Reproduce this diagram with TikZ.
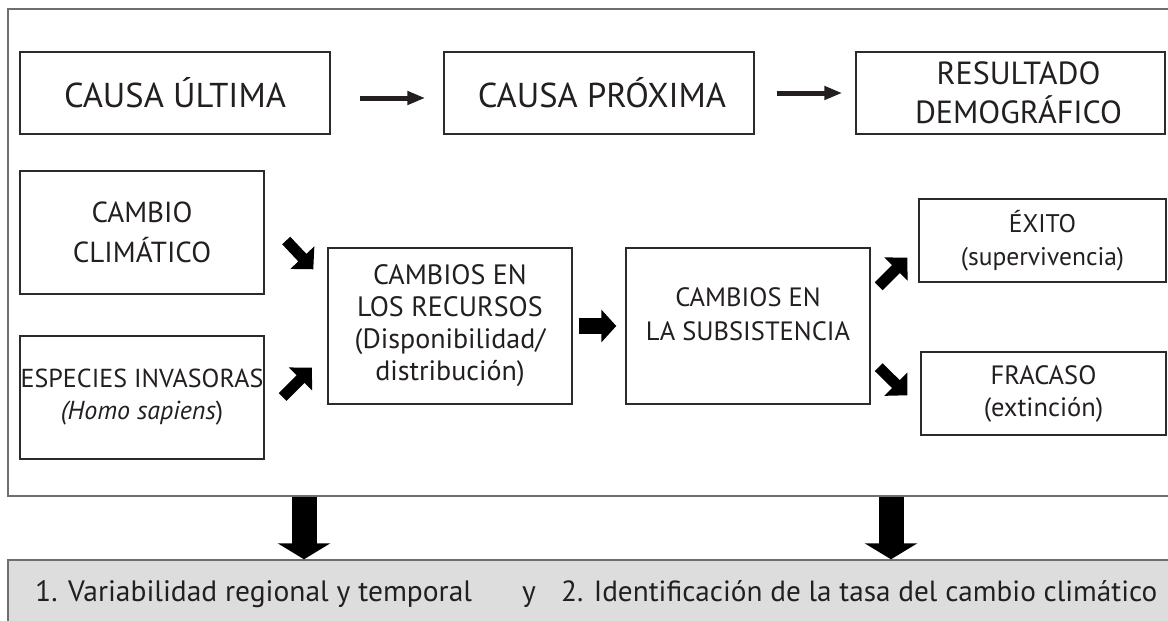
\documentclass[tikz,border=0pt]{standalone}
\usepackage{fontspec}
\setmainfont{PT Sans}
\usetikzlibrary{arrows.meta}
\definecolor{ink}{HTML}{231F20}
\definecolor{boxline}{HTML}{2B2B2B}
\definecolor{outerline}{HTML}{6E6E6E}
\definecolor{panel}{HTML}{DCDDDC}
\begin{document}
\begin{tikzpicture}[x=1pt,y=-1pt,
  box/.style={draw=boxline, line width=1.4pt, text=ink, align=center, inner sep=0pt},
  bigtxt/.style={font=\fontsize{34.5}{39}\selectfont},
  midtxt/.style={font=\fontsize{28}{32}\selectfont},
  thinarrow/.style={draw=ink, line width=5pt, -{Triangle[length=18pt,width=13pt]}},
  fatarrow/.style={draw=black, line width=16pt, -{Triangle[length=15pt,width=32pt]}},
  diagarrow/.style={draw=black, line width=11pt, -{Triangle[length=16pt,width=32pt]}},
  downarrow/.style={draw=black, line width=25pt, -{Triangle[length=16pt,width=52pt]}},
  bottomtxt/.style={text=ink, inner sep=0pt, anchor=base west, font=\fontsize{29.5}{34}\selectfont}]
\useasboundingbox (0,0) rectangle (1168,621);
\clip (0,0) rectangle (1168,621);
\fill[white] (0,0) rectangle (1168,621);

% frames
\node[draw=outerline, line width=1.4pt, minimum width=1164pt, minimum height=487pt, inner sep=0pt] (outer) at (590,252.5) {};
\node[draw=outerline, fill=panel, line width=1.4pt, minimum width=1164pt, minimum height=75pt, inner sep=0pt] (panel) at (590,597.5) {};

% top row
\node[box, bigtxt, minimum width=310pt, minimum height=82pt] (cu) at (175,93) {CAUSA ÚLTIMA};
\node[box, bigtxt, minimum width=310pt, minimum height=82pt] (cp) at (599,93) {\hspace*{6pt}CAUSA PRÓXIMA};
\node[box, font=\fontsize{32}{39}\selectfont, minimum width=309pt, minimum height=82pt] (rd) at (1010.5,93) {\hspace*{16pt}RESULTADO\\\hspace*{16pt}DEMOGRÁFICO};

% middle
\node[box, font=\fontsize{29}{40}\selectfont, minimum width=244pt, minimum height=123pt] (cc) at (142,232.5) {CAMBIO\\CLIMÁTICO};
\node[box, font=\fontsize{26}{32}\selectfont, minimum width=244pt, minimum height=123pt] (ei) at (142,397.5) {ESPECIES INVASORAS\\\textit{(Homo sapiens})};
\node[box, midtxt, minimum width=244pt, minimum height=156pt] (cr) at (450,326) {CAMBIOS EN\\LOS RECURSOS\\(Disponibilidad/\\distribución)};
\node[box, font=\fontsize{26.5}{34}\selectfont, minimum width=244pt, minimum height=156pt] (cs) at (748,326) {CAMBIOS EN\\LA SUBSISTENCIA\\[-10pt]};
\node[box, font=\fontsize{25.5}{33}\selectfont, minimum width=247pt, minimum height=83pt] (ex) at (1042.5,240.5) {ÉXITO\\(supervivencia)};
\node[box, font=\fontsize{26.5}{32}\selectfont, minimum width=245pt, minimum height=83pt] (fr) at (1043.5,393.5) {FRACASO\\(extinción)};

% top arrows
\draw[thinarrow] ([shift={(29,5)}]cu.east) -- ([shift={(-18,5)}]cp.west);
\draw[thinarrow] ([xshift=22pt]cp.east) -- ([xshift=-13pt]rd.west);

% middle arrows
\draw[diagarrow] ([shift={(21.5,8)}]cc.east) -- ([shift={(-14,22)}]cr.north west);
\draw[diagarrow] ([shift={(18,-0.5)}]ei.east) -- ([shift={(-15.5,-37)}]cr.south west);
\draw[fatarrow] ([xshift=6pt]cr.east) -- ([xshift=-9pt]cs.west);
\draw[diagarrow] ([shift={(8,39)}]cs.north east) -- ([shift={(-11,-25)}]ex.south west);
\draw[diagarrow] ([shift={(8,-37.5)}]cs.south east) -- ([shift={(-13,44)}]fr.north west);

% down arrows
\coordinate (d1) at (304,0);
\coordinate (d2) at (891,0);
\draw[downarrow] (outer.south -| d1) -- (panel.north -| d1);
\draw[downarrow] (outer.south -| d2) -- (panel.north -| d2);

% bottom text
\node[bottomtxt] (t1) at (35,601) {1. Variabilidad regional y temporal};
\node[bottomtxt] (ty) at (522,601) {y};
\node[bottomtxt, font=\fontsize{29.2}{34}\selectfont] (t2) at (561,601) {2. Identificación de la tasa del cambio climático};
\end{tikzpicture}
\end{document}
